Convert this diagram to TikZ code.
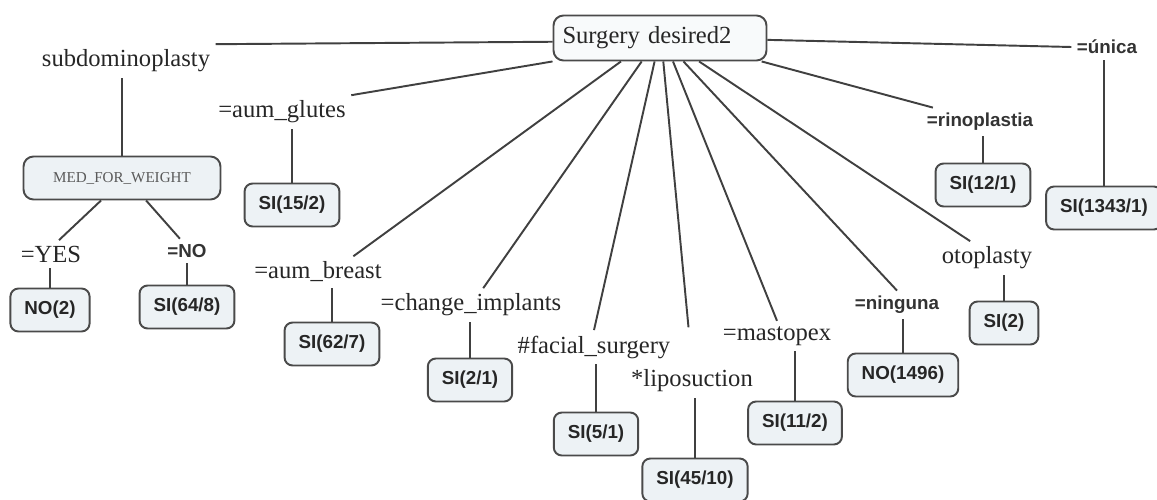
\documentclass[tikz,border=0pt]{standalone}
\usepackage{fontspec}
\setmainfont{Liberation Serif}
\setsansfont{Liberation Sans}
\usepackage{tikz}
\usepackage{xcolor}
\usetikzlibrary{
    calc,
    positioning
}

\definecolor{boxfill}{HTML}{EDF2F5}
\definecolor{boxline}{HTML}{4A4A4A}
\definecolor{wirecol}{HTML}{404040}

\begin{document}
\begin{tikzpicture}[
    x=0.02cm, y=-0.02cm,
    lbl/.style={inner sep=3pt, font=\fontsize{14}{16}\selectfont, text=black!85},
    blbl/.style={inner sep=3pt, font=\fontsize{10.7}{12}\selectfont\sffamily\bfseries, text=black!80},
    leaf/.style={draw=boxline, line width=1.1pt, fill=boxfill, rounded corners=0.16cm,
        minimum height=0.86cm, inner xsep=0.28cm,
        font=\fontsize{10.7}{12}\selectfont\sffamily\bfseries, text=black!85},
    wire/.style={draw=wirecol, line width=1.1pt}
]
                        \useasboundingbox (0, 0) rectangle (1157, 500);

                        \node[draw=boxline, line width=1.1pt, fill=boxfill!40, rounded corners=0.2cm,
                            minimum width=4.26cm, minimum height=0.9cm, lbl,
                            text width=3.9cm, align=left] (root) at (660, 38) {Surgery desired2};

                        \begin{scope}
                            \node[lbl] (sub) at (126, 61) {subdominoplasty};
                            \node[draw=boxline, line width=1.1pt, fill=boxfill, rounded corners=0.2cm,
                                minimum width=3.94cm, minimum height=0.86cm, inner sep=0pt,
                                font=\fontsize{8.6}{10}\selectfont, text=black!65] (med) at (122, 178) {MED\_FOR\_WEIGHT};
                            \node[lbl] (yes) at (51, 254) {=YES};
                            \node[blbl] (no) at (187, 251) {=NO};
                            \node[leaf] (n2) at (50, 310) {NO(2)};
                            \node[leaf] (s648) at (187, 307) {SI(64/8)};
                        \end{scope}

                        \node[lbl] (glut) at (282, 112) {=aum\_glutes};
                        \node[lbl] (ab) at (318, 272) {=aum\_breast};
                        \node[lbl] (ci) at (471, 305) {=change\_implants};
                        \node[lbl] (fs) at (594, 347) {\#facial\_surgery};
                        \node[lbl] (lipo) at (692, 381) {*liposuction};
                        \node[lbl] (mast) at (777, 336) {=mastopex};
                        \node[blbl] (ning) at (897, 305) {=ninguna};
                        \node[lbl] (oto) at (987, 258) {otoplasty};
                        \node[blbl] (rino) at (980, 122) {=rinoplastia};
                        \node[blbl] (unica) at (1107, 47) {=única};

                        \node[leaf] (s152) at (292, 205) {SI(15/2)};
                        \node[leaf] (s627) at (332, 344) {SI(62/7)};
                        \node[leaf] (s21) at (470, 380) {SI(2/1)};
                        \node[leaf] (s51) at (596, 434) {SI(5/1)};
                        \node[leaf] (s4510) at (695, 480) {SI(45/10)};
                        \node[leaf] (s112) at (795, 423) {SI(11/2)};
                        \node[leaf] (n1496) at (903, 375) {NO(1496)};
                        \node[leaf] (s2) at (1004, 323) {SI(2)};
                        \node[leaf] (s121) at (983, 185) {SI(12/1)};
                        \node[leaf] (s13431) at (1104, 208) {SI(1343/1)};

                        \draw[wire]
                        (root.182) edge (sub.north east)
                        (root.south west) edge (glut.north east)
                        (root.-149) edge (ab.24)
                        (root.-128) edge (ci.54)
                        (root.-103) edge (fs.north)
                        (root.-82) edge[shorten >=0.74cm] (lipo.north)
                        (root.-61) edge (mast.north)
                        (root.-45) edge (ning.north)
                        (root.-31) edge (oto.135)
                        (root.-13) edge (rino.163)
                        (root.-1) edge (unica.west);

                        \draw[wire]
                        (med.north) edge (med.north |- sub.south)
                        (med.-133) edge (yes.60)
                        (med.-43) edge (no.120)
                        (n2.north) edge (n2.north |- yes.south)
                        (s648.north) edge (s648.north |- no.south)
                        (s152.north) edge (s152.north |- glut.south)
                        (s627.north) edge (s627.north |- ab.south)
                        (s21.north) edge (s21.north |- ci.south)
                        (s51.north) edge (s51.north |- fs.south)
                        (s4510.north) edge (s4510.north |- lipo.south)
                        (s112.north) edge (s112.north |- mast.south)
                        (n1496.north) edge (n1496.north |- ning.south)
                        (s2.north) edge (s2.north |- oto.south)
                        (s121.north) edge (s121.north |- rino.south)
                        (s13431.north) edge (s13431.north |- unica.south);
                    \end{tikzpicture}
\end{document}
